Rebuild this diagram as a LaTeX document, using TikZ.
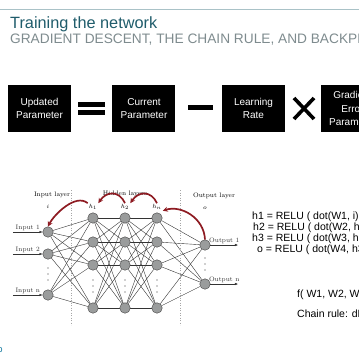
\documentclass[tikz,border=0pt]{standalone}
\usepackage{fontspec}
\setsansfont{Liberation Sans}
\usetikzlibrary{arrows.meta, backgrounds}
\definecolor{SlideTeal}{HTML}{1F5C6B}
\definecolor{SlideGrey}{HTML}{7E8B8E}
\definecolor{SlideRule}{HTML}{A9C2C7}
\definecolor{ArcRed}{HTML}{8E1B22}
\definecolor{NodeGrey}{HTML}{9A9C9C}
\definecolor{PageNum}{HTML}{2A86A8}
\tikzset{
    % Equation boxes
    termbox/.style={
        rectangle,
        fill=black,
        text=white,
        minimum width=63pt,
        minimum height=47pt,
        inner sep=0pt,
        align=center,
        font=\sffamily\fontsize{10}{12.5}\selectfont
    },
    % Network styles
    neuron/.style={
        circle,
        draw=black!75,
        fill=NodeGrey,
        thin,
        minimum size=10.5pt,
        inner sep=0pt
    },
    edge/.style={
        black!80,
        line width=0.4pt
    },
    iolabel/.style={
        font=\fontsize{6.5}{7}\selectfont,
        inner sep=1pt
    },
    ioarrow/.style={
        -{Latex[length=3pt,width=2.5pt]},
        black!80,
        line width=0.4pt
    },
    backarc/.style={
        -{Stealth[length=5pt,width=5pt]},
        ArcRed,
        line width=1.7pt
    },
    layersep/.style={
        gray!70,
        dotted,
        line width=0.5pt
    },
    eqtext/.style={
        anchor=base west,
        inner sep=0pt,
        font=\sffamily\fontsize{10.5}{12}\selectfont
    }
}
\begin{document}
\begin{tikzpicture}[x=1pt, y=-1pt]
    \useasboundingbox (0,0) rectangle (359,360);
    \clip (0,0) rectangle (359,360);

    % Header
    \draw[SlideRule, line width=0.6pt] (0,9) -- (359,9);
    \node[anchor=base west, inner sep=0pt, SlideTeal, font=\sffamily\fontsize{16.3}{18}\selectfont] (title) at (10,28) {Training the network};
    \node[anchor=base west, inner sep=0pt, SlideGrey, font=\sffamily\fontsize{13.7}{15}\selectfont] (subtitle) at (10,43) {GRADIENT DESCENT, THE CHAIN RULE, AND BACKPROPAGATION};

    % Update rule (boxes)
    \node[termbox] (upd) at (39.5,108.5) {Updated\\Parameter};
    \node[termbox] (cur) at (144,108.5) {Current\\Parameter};
    \node[termbox] (lr) at (253.5,108.5) {Learning\\Rate};
    \node[termbox, font=\sffamily\fontsize{10}{13.5}\selectfont] (grad) at (352.5,108.5) {Gradient\\Error\\Parameter};

    % Operators
    \fill (78,102) rectangle (105,107);
    \fill (78,110) rectangle (105,115);
    \fill (188,104.5) rectangle (213,109.5);
    \draw[line width=3.6pt] (294,98) -- (314,119) (294,119) -- (314,98);

    % Layer separators
    \draw[layersep] (71,190) -- (71,325);
    \draw[layersep] (180,190) -- (180,325);

    % Layer titles
    \node[iolabel] (tin) at (52,195) {Input layer};
    \node[iolabel] (thid) at (125,194) {Hidden layers};
    \node[iolabel] (tout) at (214,196) {Output layer};
    \node[iolabel] (li) at (48,207) {$i$};
    \node[iolabel] (lh1) at (93,207) {$h_1$};
    \node[iolabel] (lh2) at (125,207) {$h_2$};
    \node[iolabel] (lh3) at (157,207) {$h_n$};
    \node[iolabel] (lo) at (205,208) {$o$};

    % Neurons
    \foreach \y [count=\k] in {232,254,295}
        \node[neuron] (i\k) at (48,\y) {};
    \foreach \y [count=\k] in {218,242,265,308} {
        \node[neuron] (a\k) at (93,\y) {};
        \node[neuron] (b\k) at (125,\y) {};
        \node[neuron] (c\k) at (157,\y) {};
    }
    \foreach \y [count=\k] in {245,284}
        \node[neuron] (o\k) at (205,\y) {};

    % Dots
    \foreach \x/\y in {48/268, 93/280, 125/280, 157/280, 205/258}
        \foreach \d in {0,6,12}
            \fill[black!80] (\x,\y+\d) circle (0.7pt);

    % Connections
    \begin{scope}[on background layer]
        \foreach \s in {1,2,3}
            \foreach \t in {1,...,4}
                \draw[edge] (i\s) -- (a\t);
        \foreach \s in {1,...,4}
            \foreach \t in {1,...,4} {
                \draw[edge] (a\s) -- (b\t);
                \draw[edge] (b\s) -- (c\t);
            }
        \foreach \s in {1,...,4}
            \foreach \t in {1,2}
                \draw[edge] (c\s) -- (o\t);
    \end{scope}

    % Inputs and outputs
    \coordinate (in1) at (13,232);
    \coordinate (in2) at (13,254);
    \coordinate (in3) at (13,295);
    \draw[ioarrow] (in1) -- (i1) node[iolabel, midway, above] {Input 1};
    \draw[ioarrow] (in2) -- (i2) node[iolabel, midway, above] {Input 2};
    \draw[ioarrow] (in3) -- (i3) node[iolabel, midway, above] {Input n};
    \coordinate (out1) at (238,245);
    \coordinate (out2) at (238,284);
    \draw[ioarrow] (o1) -- (out1) node[iolabel, midway, above] {Output 1};
    \draw[ioarrow] (o2) -- (out2) node[iolabel, midway, above] {Output n};

    % Backpropagation arcs
    \draw[backarc] (o1.north) .. controls +(-1,-22) and +(18,-6) .. (lh3.south east);
    \draw[backarc] (lh3.north) .. controls +(-6,-13) and +(8,-12) .. (lh2.north east);
    \draw[backarc] (lh2.north) .. controls +(-6,-13) and +(8,-12) .. (lh1.north east);
    \draw[backarc] (lh1.north west) .. controls +(-12,-10) and +(6,-12) .. (i1.north);

    % Forward equations
    \node[eqtext] (eq1) at (252,219) {h1 = RELU ( dot(W1, i) )};
    \node[eqtext] (eq2) at (253,230) {h2 = RELU ( dot(W2, h1) )};
    \node[eqtext] (eq3) at (252,241) {h3 = RELU ( dot(W3, h2) )};
    \node[eqtext] (eq4) at (257,252) {o = RELU ( dot(W4, h3) )};
    \node[eqtext] (loss) at (297,297) {f( W1, W2, W3, W4 )};
    \node[eqtext] (chain) at (297,317) {Chain rule: dL/dW};

    % Page number
    \node[PageNum, font=\sffamily\bfseries\fontsize{7}{7}\selectfont, inner sep=0pt] (page) at (0.5,350) {0};
\end{tikzpicture}
\end{document}
